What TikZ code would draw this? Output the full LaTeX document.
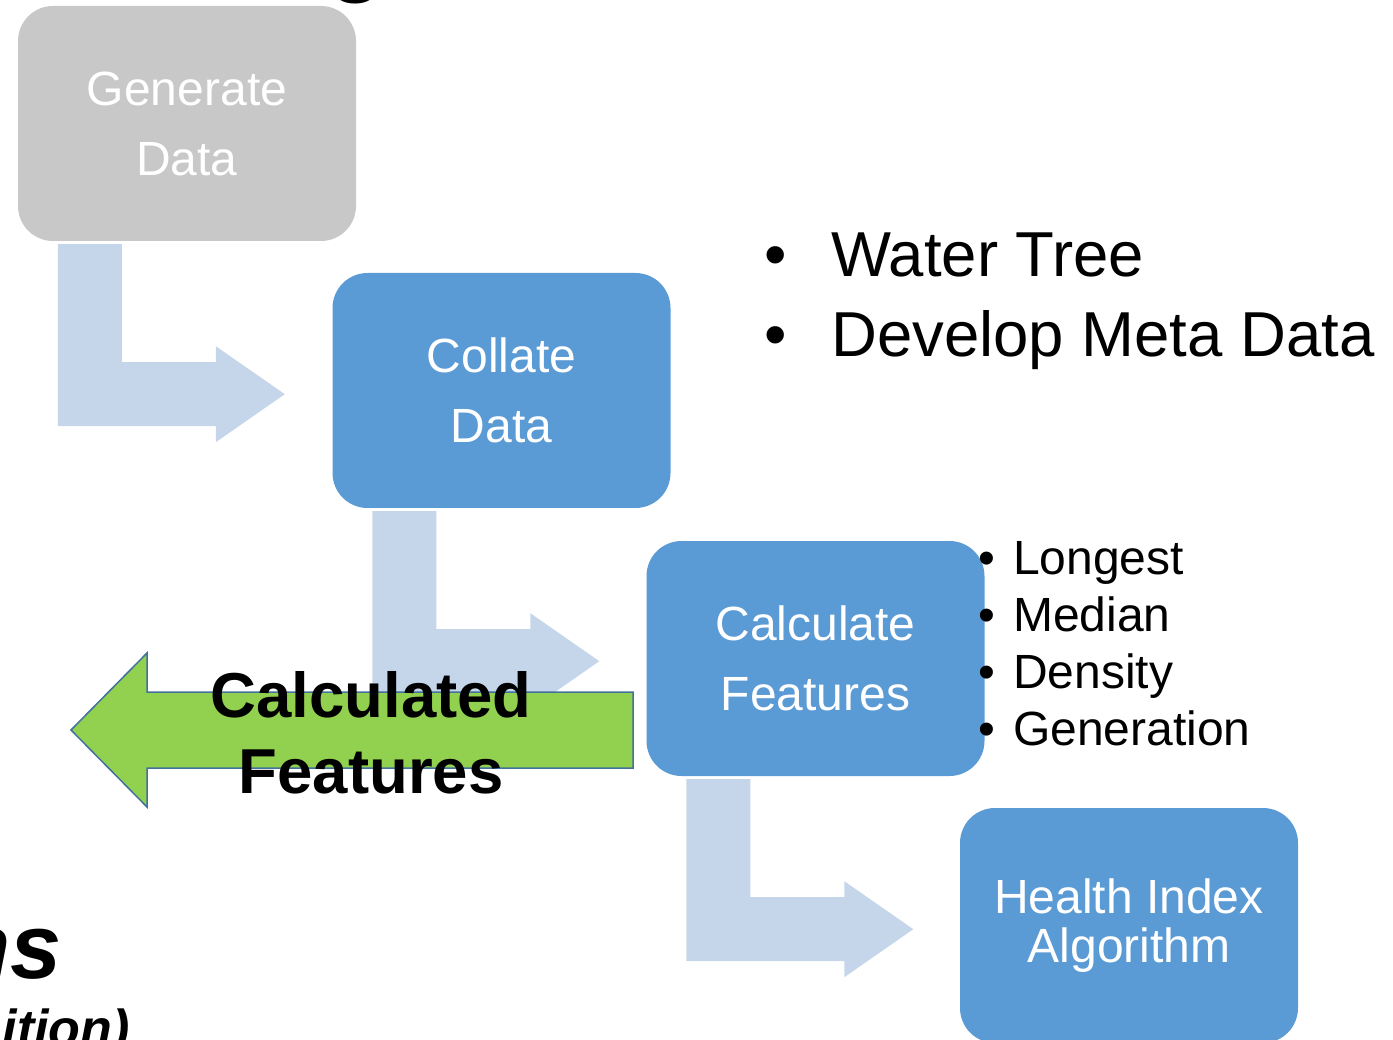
\documentclass[tikz,border=0pt]{standalone}
\usepackage{fontspec}
\setmainfont{Liberation Sans}
\usepackage{xcolor}

\definecolor{boxgray}{HTML}{C8C8C8}
\definecolor{boxblue}{HTML}{5B9BD5}
\definecolor{flowblue}{HTML}{C5D5EA}
\definecolor{featgreen}{HTML}{92D050}
\definecolor{featedge}{HTML}{41719C}

\tikzset{
  proc/.style={rectangle, rounded corners=35, minimum width=338,
               minimum height=235, inner sep=0, align=center,
               text=white, font=\fontsize{48}{70}\selectfont},
  flow/.style={fill=flowblue},
  item/.style={anchor=base west, inner sep=0},
  dot/.style={anchor=base, inner sep=0}
}

\begin{document}
\begin{tikzpicture}[x=1pt, y=-1pt]

\clip (0,0) rectangle (1393,1040);

% cut-off title text
\node[dot, font=\bfseries\fontsize{92}{92}\selectfont](t0) at (357,-15) {g};
\node[anchor=base east, inner sep=0,
      font=\bfseries\itshape\fontsize{92}{92}\selectfont](t1) at (62,978) {ns};
\node[anchor=base east, inner sep=0,
      font=\bfseries\itshape\fontsize{52}{52}\selectfont](t2) at (130,1046) {ition)};

\path
    (187,123.5)   node[proc, fill=boxgray](g) {Generate\\Data}
    (501.5,390.5) node[proc, fill=boxblue](c) {Collate\\Data}
    (815.5,658.5) node[proc, fill=boxblue](f) {Calculate\\Features}
    (1129,925.5)  node[proc, fill=boxblue,
                       font=\fontsize{48}{49}\selectfont](h) {Health Index\\Algorithm}
    ;

% bent arrows below each step
\foreach \n in {g,c,f}
    \fill[flow, shift={(\n.south west)}]
        (40,3) -- (104,3) -- (104,121) -- (198,121) -- (198,105) -- (267,153)
        -- (198,201) -- (198,185) -- (40,185) -- cycle;

\draw[fill=featgreen, draw=featedge, line width=1.5]
    (633,692) -- (147,692) -- (147,653) -- (71,730)
    -- (147,807) -- (147,768) -- (633,768) -- cycle;
\node[align=center, inner sep=0,
      font=\bfseries\fontsize{63.5}{76}\selectfont](cf) at (371,732.5) {Calculated\\Features};

% notes
\foreach \t [count=\i] in {Water Tree, Develop Meta Data} {
    \node[dot, font=\fontsize{64}{64}\selectfont](mb\i) at (776,197+80*\i) {\textbullet};
    \node[item, font=\fontsize{63.5}{64}\selectfont](m\i) at (831,197+80*\i) {\t};
}
\foreach \t [count=\i] in {Longest, Median, Density, Generation} {
    \node[dot, font=\fontsize{48}{48}\selectfont](sb\i) at (987,517+57*\i) {\textbullet};
    \node[item, font=\fontsize{48}{48}\selectfont](s\i) at (1013,517+57*\i) {\t};
}

\end{tikzpicture}
\end{document}
